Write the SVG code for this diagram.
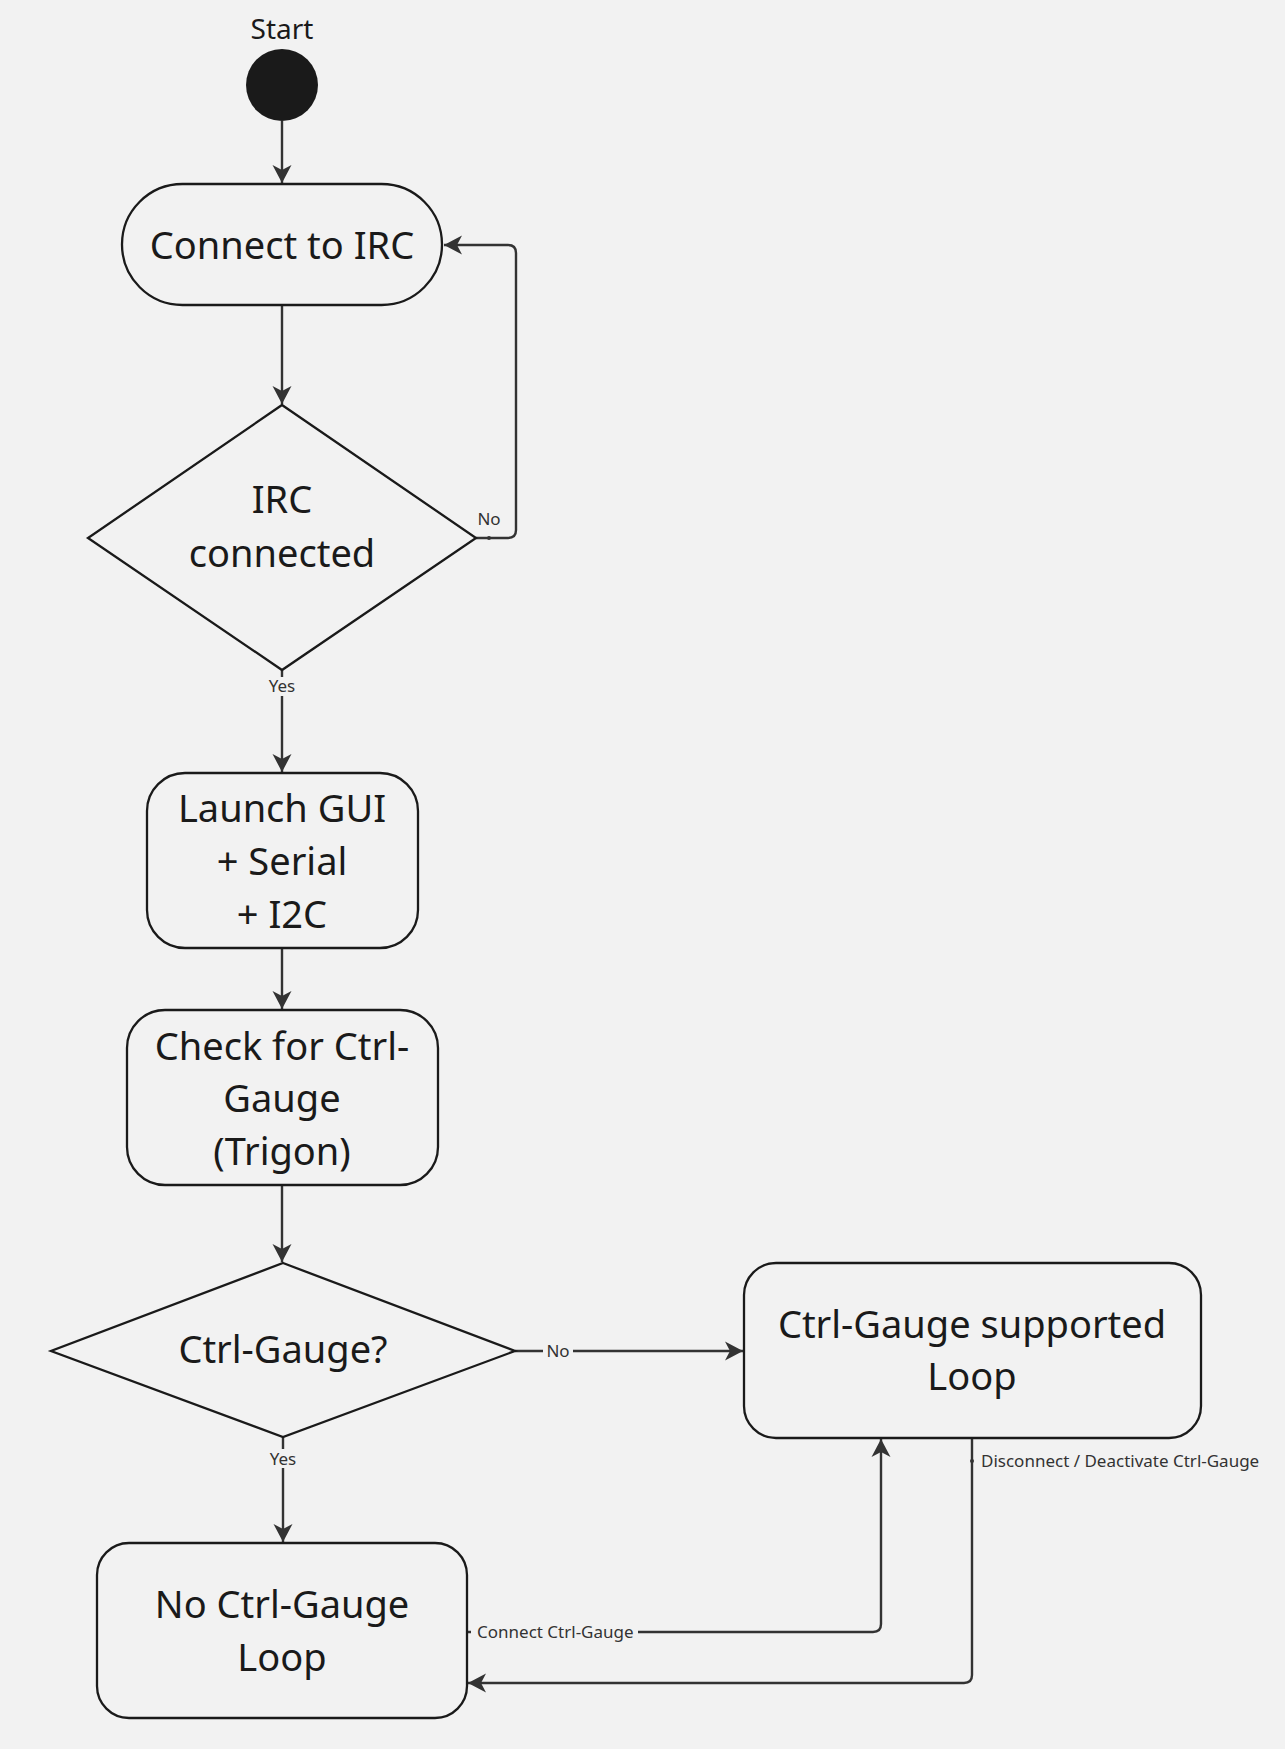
<svg xmlns="http://www.w3.org/2000/svg" width="1285" height="1749" viewBox="0 0 1285 1749">
<style>
.node{fill:#f2f2f2;stroke:#1a1a1a;stroke-width:2.3}
.t{font-family:"Noto Sans","Open Sans","DejaVu Sans",sans-serif;font-size:38px;fill:#1a1a1a;text-anchor:middle}
.st{font-family:"Noto Sans","Open Sans","DejaVu Sans",sans-serif;font-size:28px;fill:#1a1a1a;text-anchor:middle}
.lbl{font-family:"Noto Sans","Open Sans","DejaVu Sans",sans-serif;font-size:17px;fill:#333}
.edge{fill:none;stroke:#333;stroke-width:2.4;marker-end:url(#arr)}
.bg{fill:#f2f2f2}
.dot{fill:#333}
</style>
<defs>
<marker id="arr" viewBox="-20 -11 21 22" refX="0" refY="0" markerWidth="21" markerHeight="22" markerUnits="userSpaceOnUse" orient="auto">
<path d="M0,0 L-18,-9.5 L-13,0 L-18,9.5 Z" fill="#333"/>
</marker>
</defs>
<rect x="0" y="0" width="1285" height="1749" fill="#f2f2f2"/>

<g id="connectors">
<path class="edge" d="M282,121 V183"/>
<path class="edge" d="M282,305 V404"/>
<path class="edge" d="M476,538 H508 Q516,538 516,530 V253 Q516,245 508,245 H444"/>
<circle class="dot" cx="489" cy="538" r="2"/>
<text class="lbl" x="489" y="525" text-anchor="middle">No</text>
<path class="edge" d="M282,670 V772"/>
<rect class="bg" x="266" y="677" width="32" height="19"/>
<text class="lbl" x="282" y="692" text-anchor="middle">Yes</text>
<path class="edge" d="M282,948 V1009"/>
<path class="edge" d="M282,1185 V1262"/>
<path class="edge" d="M515,1351 H743"/>
<rect class="bg" x="543" y="1339" width="30" height="22"/>
<text class="lbl" x="558" y="1357" text-anchor="middle">No</text>
<path class="edge" d="M283,1437 V1542"/>
<rect class="bg" x="267" y="1449" width="32" height="19"/>
<text class="lbl" x="283" y="1465" text-anchor="middle">Yes</text>
<path class="edge" d="M467,1632 H873 Q881,1632 881,1624 V1439"/>
<rect class="bg" x="471" y="1620" width="167" height="22"/>
<text class="lbl" x="477" y="1638">Connect Ctrl-Gauge</text>
<path class="edge" d="M972,1438 V1675 Q972,1683 964,1683 H468"/>
<circle class="dot" cx="972" cy="1461" r="2"/>
<text class="lbl" x="981" y="1467">Disconnect / Deactivate Ctrl-Gauge</text>
</g>

<g id="start">
<text class="st" x="282" y="39">Start</text>
<circle cx="282" cy="85" r="36" fill="#1a1a1a"/>
</g>

<g id="connect-irc">
<rect class="node" x="122" y="184" width="320" height="121" rx="60.5"/>
<text class="t" x="282" y="259">Connect to IRC</text>
</g>

<g id="irc-connected">
<polygon class="node" points="282,405 476,538 282,670 88,538"/>
<text class="t" x="282" y="513">IRC</text>
<text class="t" x="282" y="567">connected</text>
</g>

<g id="launch-gui">
<rect class="node" x="147" y="773" width="271" height="175" rx="38"/>
<text class="t" x="282" y="822">Launch GUI</text>
<text class="t" x="282" y="875">+ Serial</text>
<text class="t" x="282" y="928">+ I2C</text>
</g>

<g id="check-ctrl-gauge">
<rect class="node" x="127" y="1010" width="311" height="175" rx="38"/>
<text class="t" x="282" y="1060">Check for Ctrl-</text>
<text class="t" x="282" y="1112">Gauge</text>
<text class="t" x="282" y="1165">(Trigon)</text>
</g>

<g id="ctrl-gauge-decision">
<polygon class="node" points="283,1263 515,1351 283,1437 51,1351"/>
<text class="t" x="283" y="1363">Ctrl-Gauge?</text>
</g>

<g id="supported-loop">
<rect class="node" x="744" y="1263" width="457" height="175" rx="32"/>
<text class="t" x="972" y="1338">Ctrl-Gauge supported</text>
<text class="t" x="972" y="1390">Loop</text>
</g>

<g id="no-ctrl-gauge-loop">
<rect class="node" x="97" y="1543" width="370" height="175" rx="32"/>
<text class="t" x="282" y="1618">No Ctrl-Gauge</text>
<text class="t" x="282" y="1671">Loop</text>
</g>
</svg>
